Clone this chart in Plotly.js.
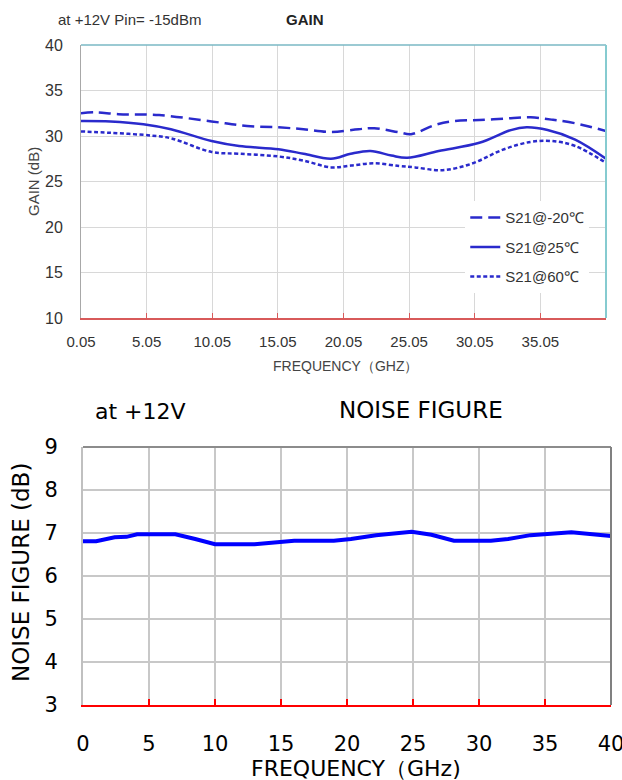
<!DOCTYPE html>
<html>
<head>
<meta charset="utf-8">
<script src="https://cdn.plot.ly/plotly-3.0.1.min.js"></script>
<style>html,body{margin:0;padding:0;background:#fff;}#chart{width:622px;height:780px;}</style>
</head>
<body>
<div id="chart"></div>
<script>
// ---- GAIN chart data ----
const gainFreqM20 = [0.05, 1.1, 2.9, 6.0, 10.0, 12.7, 15.1, 17.0, 19.1, 21.2, 22.4, 24.3, 25.2, 27.0, 28.5, 30.4, 32.8, 34.3, 35.9, 37.7, 40.05];
const gainM20     = [32.5, 32.6, 32.4, 32.3, 31.6, 31.1, 30.95, 30.75, 30.45, 30.75, 30.85, 30.4, 30.2, 31.2, 31.65, 31.75, 31.95, 32.05, 31.8, 31.4, 30.55];
const gainFreq25  = [0.05, 2.3, 4.8, 6.9, 10.0, 12.1, 15.1, 17.0, 19.1, 20.6, 22.1, 23.7, 24.9, 27.3, 30.4, 32.8, 34.0, 35.6, 37.7, 40.05];
const gain25      = [31.65, 31.6, 31.3, 30.75, 29.45, 28.9, 28.55, 28.05, 27.5, 28.05, 28.35, 27.85, 27.6, 28.35, 29.25, 30.65, 30.95, 30.65, 29.6, 27.5];
const gainFreq60  = [0.05, 2.3, 5.4, 6.9, 10.0, 12.1, 15.1, 17.0, 19.1, 20.6, 22.4, 24.3, 25.5, 27.6, 29.8, 32.2, 34.3, 35.9, 37.7, 40.05];
const gain60      = [30.5, 30.35, 30.05, 29.75, 28.25, 28.05, 27.75, 27.3, 26.55, 26.75, 27.0, 26.7, 26.55, 26.25, 26.95, 28.5, 29.35, 29.45, 28.9, 27.05];
const gainNames   = ["S21@-20℃", "S21@25℃", "S21@60℃"];
const gainTickVals = [0.05, 5.05, 10.05, 15.05, 20.05, 25.05, 30.05, 35.05];
const gainTickText = ["0.05", "5.05", "10.05", "15.05", "20.05", "25.05", "30.05", "35.05"];

// ---- NOISE FIGURE chart data ----
const nfFreq = [0, 1, 2.4, 3.3, 4.1, 7.0, 8.5, 10.0, 13.0, 16.0, 19.0, 20.3, 22.2, 23.4, 24.9, 26.4, 28.1, 30.9, 32.2, 33.9, 35.5, 37.0, 40.0];
const nfVal  = [6.81, 6.81, 6.90, 6.91, 6.97, 6.97, 6.86, 6.74, 6.74, 6.82, 6.82, 6.86, 6.95, 6.98, 7.03, 6.96, 6.82, 6.82, 6.86, 6.95, 6.98, 7.02, 6.93];

const ARIAL = "Liberation Sans, Arial, sans-serif";
const WIDE = "DejaVu Sans, Verdana, sans-serif";
const gainColor = "#2a2acc";

const traces = [
  {x: gainFreqM20, y: gainM20, name: gainNames[0], mode: "lines", line: {color: gainColor, width: 2.5, dash: "12px,6px", shape: "spline"}, xaxis: "x", yaxis: "y", legendgroup: "a"},
  {x: gainFreq25, y: gain25, name: gainNames[1], mode: "lines", line: {color: gainColor, width: 2.5, shape: "spline"}, xaxis: "x", yaxis: "y", legendgroup: "b"},
  {x: gainFreq60, y: gain60, name: gainNames[2], mode: "lines", line: {color: gainColor, width: 2.5, dash: "4px,2.5px", shape: "spline"}, xaxis: "x", yaxis: "y", legendgroup: "c"},
  {x: nfFreq, y: nfVal, name: "NF", mode: "lines", line: {color: "#0000ff", width: 4}, xaxis: "x2", yaxis: "y2", showlegend: false}
];

const layout = {
  width: 622, height: 780,
  margin: {l: 0, r: 0, t: 0, b: 0},
  paper_bgcolor: "#fff", plot_bgcolor: "#fff",
  showlegend: true,
  legend: {x: 0.748, y: 0.742, xanchor: "left", yanchor: "top", bgcolor: "#fff", borderwidth: 0,
           font: {family: ARIAL, size: 15, color: "#333"}, itemwidth: 30, tracegroupgap: 7},
  xaxis: {domain: [81/622, 606/622], range: [0.05, 40.05], tickvals: gainTickVals, ticktext: gainTickText,
          showgrid: true, gridcolor: "#d8d8d8", gridwidth: 1, zeroline: false,
          showline: true, linecolor: "#d85a5a", linewidth: 1.5, ticks: "inside", ticklen: 5, tickcolor: "#d85a5a",
          tickfont: {family: ARIAL, size: 15, color: "#333"}, ticklabelstandoff: 9, anchor: "y"},
  yaxis: {domain: [1 - 318/780, 1 - 45/780], range: [10, 40], dtick: 5, tick0: 10,
          showgrid: true, gridcolor: "#d8d8d8", gridwidth: 1, zeroline: false,
          showline: true, linecolor: "#a8a8a8", linewidth: 1, ticks: "",
          tickfont: {family: ARIAL, size: 16, color: "#333"}, ticklabelstandoff: 14, anchor: "x"},
  xaxis2: {domain: [83/622, 611/622], range: [0, 40], dtick: 5, tick0: 0,
           showgrid: true, gridcolor: "#c8c8c8", gridwidth: 2, zeroline: false,
           showline: true, linecolor: "#ff0000", linewidth: 2, ticks: "inside", ticklen: 6, tickcolor: "#ff0000", tickwidth: 2,
           tickfont: {family: WIDE, size: 21, color: "#000"}, ticklabelstandoff: 19, ticklabeloverflow: "allow", anchor: "y2"},
  yaxis2: {domain: [1 - 705/780, 1 - 447/780], range: [3, 9], dtick: 1, tick0: 3,
           showgrid: true, gridcolor: "#c8c8c8", gridwidth: 2, zeroline: false,
           showline: true, linecolor: "#c0c0c0", linewidth: 2, ticks: "",
           tickfont: {family: WIDE, size: 21, color: "#000"}, ticklabelstandoff: 19, anchor: "x2"},
  shapes: [
    {type: "line", xref: "x domain", yref: "y domain", x0: 0, x1: 1, y0: 1, y1: 1, line: {color: "#7ab8c4", width: 1.5}},
    {type: "line", xref: "x domain", yref: "y domain", x0: 1, x1: 1, y0: 0, y1: 1, line: {color: "#86cbd0", width: 2}},
    {type: "line", xref: "x2 domain", yref: "y2 domain", x0: 0, x1: 1, y0: 1, y1: 1, line: {color: "#8c8c8c", width: 2}},
    {type: "line", xref: "x2 domain", yref: "y2 domain", x0: 1, x1: 1, y0: 0, y1: 1, line: {color: "#808080", width: 2}}
  ],
  annotations: [
    {text: "at +12V Pin= -15dBm", xref: "paper", yref: "paper", x: 56/622, y: 1 - 19/780, xanchor: "left", yanchor: "middle", showarrow: false, font: {family: ARIAL, size: 15, color: "#333"}},
    {text: "<b>GAIN</b>", xref: "paper", yref: "paper", x: 284/622, y: 1 - 19/780, xanchor: "left", yanchor: "middle", showarrow: false, font: {family: ARIAL, size: 15, color: "#222"}},
    {text: "GAIN (dB)", xref: "paper", yref: "paper", x: 33/622, y: 1 - 182/780, xanchor: "center", yanchor: "middle", textangle: -90, showarrow: false, font: {family: ARIAL, size: 15, color: "#444"}},
    {text: "FREQUENCY（GHZ）", xref: "paper", yref: "paper", x: 345/622, y: 1 - 366/780, xanchor: "center", yanchor: "middle", showarrow: false, font: {family: ARIAL, size: 14, color: "#444"}},
    {text: "at +12V", xref: "paper", yref: "paper", x: 93/622, y: 1 - 411/780, xanchor: "left", yanchor: "middle", showarrow: false, font: {family: WIDE, size: 22, color: "#000"}},
    {text: "NOISE FIGURE", xref: "paper", yref: "paper", x: 337/622, y: 1 - 410/780, xanchor: "left", yanchor: "middle", showarrow: false, font: {family: WIDE, size: 23, color: "#000"}},
    {text: "NOISE FIGURE (dB)", xref: "paper", yref: "paper", x: 21/622, y: 1 - 573/780, xanchor: "center", yanchor: "middle", textangle: -90, showarrow: false, font: {family: WIDE, size: 23, color: "#000"}},
    {text: "FREQUENCY（GHz)", xref: "paper", yref: "paper", x: 356/622, y: 1 - 768/780, xanchor: "center", yanchor: "middle", showarrow: false, font: {family: WIDE, size: 22, color: "#000"}}
  ]
};

Plotly.newPlot("chart", traces, layout, {staticPlot: true, displayModeBar: false});
</script>
</body>
</html>
